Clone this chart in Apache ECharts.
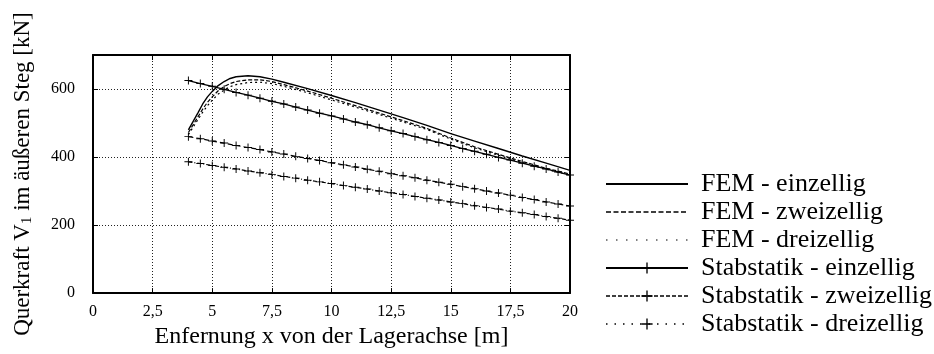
<!DOCTYPE html>
<html>
<head>
<meta charset="utf-8">
<script src="https://cdn.jsdelivr.net/npm/echarts@6/dist/echarts.min.js"></script>
<style>
  html, body { margin: 0; padding: 0; background: #fff; }
  #container { width: 934px; height: 354px; }
</style>
</head>
<body>
<div id="container"></div>
<script>
// FEM-Kurven (x in m, V in kN)
var femX = [4, 4.2, 4.4, 4.6, 4.8, 5, 5.25, 5.5, 5.75, 6, 6.5, 7, 7.5, 8, 9, 10, 11, 12, 13, 14, 15, 16, 17, 18, 19, 20];
var femEin = [480, 505, 530, 556, 577, 593, 610, 622, 631, 636, 639, 636, 629, 620, 601, 581, 560, 538, 516, 493, 469, 447, 425, 403, 382, 361];
var femZwei = [472, 495, 518, 541, 561, 577, 595, 607, 616, 622, 627, 627, 622, 613, 594, 573, 551, 529, 507, 484, 456, 430, 408, 387, 367, 350];
var femDrei = [466, 488, 510, 532, 551, 567, 585, 597, 607, 613, 619, 620, 616, 608, 589, 568, 547, 525, 503, 481, 453, 427, 405, 384, 364, 347];

// Stabstatik (Punkte alle 0,5 m)
var stabX = [4, 4.5, 5, 5.5, 6, 6.5, 7, 7.5, 8, 8.5, 9, 9.5, 10, 10.5, 11, 11.5, 12, 12.5, 13, 13.5, 14, 14.5, 15, 15.5, 16, 16.5, 17, 17.5, 18, 18.5, 19, 19.5, 20];
var stabEin = [625, 616, 608, 599, 590, 582, 573, 564, 556, 547, 538, 529, 521, 512, 503, 495, 486, 477, 469, 460, 451, 443, 434, 425, 417, 408, 399, 391, 382, 373, 365, 356, 347];
var stabZwei = [460, 454, 447, 441, 434, 428, 422, 415, 409, 402, 396, 390, 383, 377, 371, 364, 358, 351, 345, 339, 332, 326, 320, 313, 307, 300, 294, 288, 281, 275, 268, 262, 256];
var stabDrei = [386, 381, 375, 370, 365, 359, 354, 349, 343, 338, 332, 327, 322, 316, 311, 306, 300, 295, 290, 284, 279, 274, 268, 263, 257, 252, 247, 241, 236, 231, 225, 220, 214];

var seriesNames = [
  "FEM - einzellig",
  "FEM - zweizellig",
  "FEM - dreizellig",
  "Stabstatik - einzellig",
  "Stabstatik - zweizellig",
  "Stabstatik - dreizellig",
];

function pairs(xs, ys) {
  return xs.map(function (x, i) { return [x, ys[i]]; });
}

var plus = "path://M4.4,0H5.6V4.4H10V5.6H5.6V10H4.4V5.6H0V4.4H4.4Z";
var serif = "Liberation Serif";

var dom = document.getElementById("container");
var myChart = echarts.init(dom, null, { renderer: "canvas" });

var option = {
  animation: false,
  textStyle: { fontFamily: serif, color: "#000" },
  grid: { left: 93, right: 364, top: 55, bottom: 60 },
  legend: {
    orient: "vertical",
    left: 600,
    top: 166,
    itemWidth: 82,
    itemHeight: 14,
    itemGap: 2,
    textStyle: { fontFamily: serif, fontSize: 26, lineHeight: 26, color: "#000", padding: [0, 0, 0, 8] },
    data: [
      { name: seriesNames[0], itemStyle: { opacity: 0 }, lineStyle: { type: "solid", width: 2 } },
      { name: seriesNames[1], itemStyle: { opacity: 0 }, lineStyle: { type: [5, 2.5], width: 1.5 } },
      { name: seriesNames[2], itemStyle: { opacity: 0 }, lineStyle: { type: [1.5, 8.5], width: 1.2 } },
      { name: seriesNames[3], lineStyle: { type: "solid", width: 2 } },
      { name: seriesNames[4], lineStyle: { type: [4, 2], width: 1.6 } },
      { name: seriesNames[5], lineStyle: { type: [1.5, 7], width: 1.3 } },
    ],
  },
  xAxis: [
    {
      type: "value",
      min: 0,
      max: 20,
      interval: 2.5,
      name: "Enfernung x von der Lagerachse [m]",
      nameLocation: "middle",
      nameGap: 29,
      nameTextStyle: { fontFamily: serif, fontSize: 24, color: "#000" },
      axisLine: { show: true, onZero: false, lineStyle: { color: "#000", width: 2 } },
      axisTick: { show: true, inside: true, length: 5, lineStyle: { color: "#000" } },
      axisLabel: {
        fontFamily: serif,
        fontSize: 16,
        color: "#000",
        margin: 11,
        formatter: function (v) { return String(v).replace(".", ","); },
      },
      splitLine: { show: true, lineStyle: { color: "#222", type: [1, 2], width: 1 } },
    },
    {
      type: "value",
      position: "top",
      min: 0,
      max: 20,
      interval: 2.5,
      axisLine: { show: true, onZero: false, lineStyle: { color: "#000", width: 2 } },
      axisTick: { show: true, inside: true, length: 5, lineStyle: { color: "#000" } },
      axisLabel: { show: false },
      splitLine: { show: false },
    },
  ],
  yAxis: [
    {
      type: "value",
      min: 0,
      max: 700,
      interval: 200,
      name: "Querkraft V{sub|1} im äußeren Steg [kN]",
      nameLocation: "middle",
      nameGap: 58,
      nameTextStyle: {
        fontFamily: serif,
        fontSize: 23,
        color: "#000",
        rich: { sub: { fontFamily: serif, fontSize: 15, color: "#000", verticalAlign: "bottom", padding: [9, 0, 0, 0] } },
      },
      axisLine: { show: true, onZero: false, lineStyle: { color: "#000", width: 2 } },
      axisTick: { show: true, inside: true, length: 5, lineStyle: { color: "#000" } },
      axisLabel: {
        fontFamily: serif,
        fontSize: 16,
        color: "#000",
        margin: 18,
        formatter: function (v) { return v === 700 ? "" : v; },
      },
      splitLine: { show: true, lineStyle: { color: "#222", type: [1, 2], width: 1 } },
    },
    {
      type: "value",
      position: "right",
      min: 0,
      max: 700,
      interval: 200,
      axisLine: { show: true, onZero: false, lineStyle: { color: "#000", width: 2 } },
      axisTick: { show: true, inside: true, length: 5, lineStyle: { color: "#000" } },
      axisLabel: { show: false },
      splitLine: { show: false },
    },
  ],
  series: [
    {
      name: seriesNames[0],
      type: "line",
      symbol: "none",
      color: "#000",
      lineStyle: { color: "#000", width: 1.4, type: "solid" },
      data: pairs(femX, femEin),
    },
    {
      name: seriesNames[1],
      type: "line",
      symbol: "none",
      color: "#000",
      lineStyle: { color: "#000", width: 1.2, type: [4, 2] },
      data: pairs(femX, femZwei),
    },
    {
      name: seriesNames[2],
      type: "line",
      symbol: "none",
      color: "#000",
      lineStyle: { color: "#000", width: 1.2, type: [2, 3] },
      data: pairs(femX, femDrei),
    },
    {
      name: seriesNames[3],
      type: "line",
      symbol: plus,
      symbolSize: 8,
      color: "#000",
      itemStyle: { color: "#000" },
      lineStyle: { color: "#000", width: 1.3, type: "solid" },
      data: pairs(stabX, stabEin),
    },
    {
      name: seriesNames[4],
      type: "line",
      symbol: plus,
      symbolSize: 8,
      color: "#000",
      itemStyle: { color: "#000" },
      lineStyle: { color: "#000", width: 1.2, type: [5, 3] },
      data: pairs(stabX, stabZwei),
    },
    {
      name: seriesNames[5],
      type: "line",
      symbol: plus,
      symbolSize: 8,
      color: "#000",
      itemStyle: { color: "#000" },
      lineStyle: { color: "#000", width: 1.2, type: [4, 2, 1, 2] },
      data: pairs(stabX, stabDrei),
    },
  ],
};

myChart.setOption(option);
window.addEventListener("resize", myChart.resize);
</script>
</body>
</html>
